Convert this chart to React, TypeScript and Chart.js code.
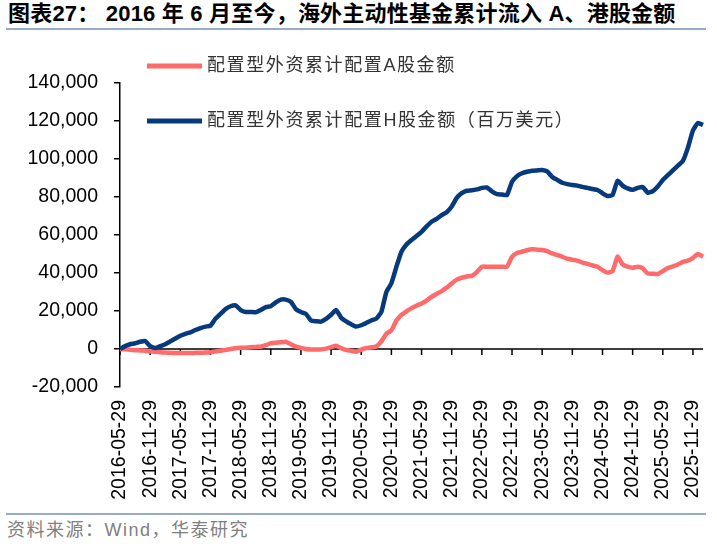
import { useEffect, useRef } from 'react';
import { Chart, registerables } from 'chart.js';

Chart.register(...registerables);

const titleText = '图表27： 2016 年 6 月至今，海外主动性基金累计流入 A、港股金额';
const sourceText = '资料来源：Wind，华泰研究';
const seriesNames = ['配置型外资累计配置A股金额', '配置型外资累计配置H股金额（百万美元）'];

const tickLabels = [
  '2016-05-29', '2016-11-29', '2017-05-29', '2017-11-29', '2018-05-29', '2018-11-29',
  '2019-05-29', '2019-11-29', '2020-05-29', '2020-11-29', '2021-05-29', '2021-11-29',
  '2022-05-29', '2022-11-29', '2023-05-29', '2023-11-29', '2024-05-29', '2024-11-29',
  '2025-05-29', '2025-11-29',
];

// monthly categories 2016-05 .. 2026-01
const categories: string[] = [];
for (let y = 2016; y <= 2026; y++) {
  for (let m = 1; m <= 12; m++) {
    if (y === 2016 && m < 5) continue;
    if (y === 2026 && m > 1) continue;
    categories.push(`${y}-${String(m).padStart(2, '0')}-29`);
  }
}

const aShares = [
  0, -200, -400, -600, -800, -900, -1200, -1500, -1700, -1900,
  -2000, -2100, -2100, -2100, -2100, -2000, -2000, -1900, -1700, -1300,
  -900, -500, 0, 400, 600, 700, 900, 1100, 1200, 2000,
  3000, 3300, 3500, 3800, 2500, 1200, 600, 0, -300, -200,
  -200, 200, 1000, 1700, 500, -500, -1000, -1400, -300, 500,
  900, 1300, 4000, 8000, 9800, 15000, 18000, 19800, 21500, 22800,
  24000, 25500, 27500, 29000, 30500, 32300, 34500, 36500, 37500, 38200,
  38500, 40500, 43300, 43300, 43300, 43300, 43300, 43300, 48500, 50500,
  51200, 52000, 52500, 52300, 52100, 51500, 50300, 49500, 48500, 47500,
  47000, 46500, 45500, 44800, 44000, 43300, 41500, 40200, 41000, 48600,
  44500, 43300, 42800, 43300, 42500, 39800, 39600, 39500, 41000, 42600,
  43500, 44500, 45900, 46500, 48000, 50000, 48600,
];

const hShares = [
  0, 1500, 2500, 3000, 3800, 4200, 1500, 500, 1500, 2500,
  4000, 5500, 7000, 8000, 8800, 10000, 11000, 11800, 12300, 16000,
  18500, 21000, 22500, 23000, 20500, 19500, 19500, 19300, 20500, 22000,
  22500, 24500, 26000, 26000, 24800, 21000, 19500, 18500, 15000, 14600,
  14400, 15800, 18000, 20500, 16500, 14500, 13000, 11800, 12500, 13700,
  15000, 16000, 19500, 30000, 34600, 43300, 51200, 55000, 57400, 59500,
  61700, 64500, 67000, 68500, 70500, 72000, 75000, 79500, 82000, 83300,
  83500, 84000, 84800, 85000, 83000, 81500, 81300, 81000, 88000, 91000,
  92500, 93300, 93800, 94000, 94200, 93500, 90500, 89000, 87500, 86800,
  86300, 86000, 85300, 84800, 84200, 83700, 82000, 80500, 81000, 88500,
  86000, 84500, 83800, 84800, 85300, 82300, 83000, 85500, 89000, 91500,
  94000, 96500, 99000, 106000, 115000, 119000, 117900,
];

const RED = '#FF6B6B';
const BLUE = '#063A7C';
const LATIN = "'Liberation Sans', Arial, 'Noto Sans CJK SC', sans-serif";

const decorPlugin = {
  id: 'decor',
  beforeDatasetsDraw(chart: any) {
    const { ctx, chartArea, scales } = chart;
    const x = scales.x;
    const y = scales.y;
    const y0 = y.getPixelForValue(0);
    ctx.save();
    ctx.strokeStyle = '#000';
    ctx.lineWidth = 1.5;
    ctx.beginPath();
    ctx.moveTo(chartArea.left, y0);
    ctx.lineTo(chartArea.right, y0);
    x.ticks.forEach((_t: any, i: number) => {
      const px = x.getPixelForTick(i);
      ctx.moveTo(px, y0);
      ctx.lineTo(px, y0 + 6);
    });
    ctx.stroke();
    ctx.restore();
  },
  afterDraw(chart: any) {
    const { ctx, chartArea } = chart;
    const items = [
      { name: seriesNames[0], color: RED, y: chartArea.top - 17 },
      { name: seriesNames[1], color: BLUE, y: chartArea.top + 38 },
    ];
    ctx.save();
    items.forEach((it) => {
      ctx.strokeStyle = it.color;
      ctx.lineWidth = 5;
      ctx.beginPath();
      ctx.moveTo(chartArea.left + 27, it.y);
      ctx.lineTo(chartArea.left + 82, it.y);
      ctx.stroke();
      ctx.fillStyle = '#333';
      ctx.font = `18px ${LATIN}`;
      (ctx as any).letterSpacing = '1.6px';
      ctx.textBaseline = 'middle';
      ctx.textAlign = 'left';
      ctx.fillText(it.name, chartArea.left + 87, it.y);
    });
    ctx.restore();
  },
};

export default function App() {
  const ref = useRef<HTMLCanvasElement | null>(null);

  useEffect(() => {
    if (!ref.current) return;
    const chart = new Chart(ref.current, {
      type: 'line',
      data: {
        labels: categories,
        datasets: [
          {
            label: seriesNames[1],
            data: hShares,
            borderColor: BLUE,
            backgroundColor: BLUE,
            borderWidth: 4.5,
            pointRadius: 0,
            tension: 0.15,
          },
          {
            label: seriesNames[0],
            data: aShares,
            borderColor: RED,
            backgroundColor: RED,
            borderWidth: 4.5,
            pointRadius: 0,
            tension: 0.15,
          },
        ],
      },
      options: {
        animation: false,
        responsive: false,
        devicePixelRatio: 1,
        layout: { padding: { top: 83, right: 14, left: 0, bottom: 0 } },
        plugins: {
          legend: { display: false },
          tooltip: { enabled: false },
        },
        scales: {
          x: {
            type: 'category',
            offset: false,
            border: { display: false },
            grid: { display: false, drawTicks: false },
            afterBuildTicks(scale: any) {
              scale.ticks = scale.ticks.filter((t: any) => tickLabels.includes(categories[t.value]));
            },
            afterFit(scale: any) {
              scale.height = 118;
              scale.paddingLeft = 0;
              scale.paddingRight = 0;
            },
            ticks: {
              autoSkip: false,
              minRotation: 90,
              maxRotation: 90,
              padding: 13,
              color: '#000',
              font: { family: LATIN, size: 19.5 },
              callback(this: any, value: any) {
                return this.getLabelForValue(value);
              },
            },
          },
          y: {
            min: -20000,
            max: 140000,
            border: { display: true, color: '#000', width: 1.5 },
            grid: {
              display: true,
              drawOnChartArea: false,
              drawTicks: true,
              tickLength: 6,
              color: '#000',
              lineWidth: 1.5,
            },
            afterFit(scale: any) {
              scale.width = 120;
            },
            ticks: {
              stepSize: 20000,
              padding: 16,
              color: '#000',
              font: { family: LATIN, size: 19.5 },
              callback(value: any) {
                return Number(value).toLocaleString('en-US');
              },
            },
          },
        },
      },
      plugins: [decorPlugin],
    } as any);
    return () => chart.destroy();
  }, []);

  return (
    <div style={{ position: 'absolute', left: 0, top: 0, width: 717, height: 548, background: '#fff', overflow: 'hidden' }}>
      <div
        style={{
          position: 'absolute',
          left: 8,
          top: 0,
          fontFamily: LATIN,
          fontSize: 22,
          fontWeight: 'bold',
          lineHeight: '27px',
          letterSpacing: '0.2px',
          color: '#000',
          whiteSpace: 'pre',
        }}
      >
        {titleText}
      </div>
      <div style={{ position: 'absolute', left: 6, top: 28, width: 700, height: 2, background: '#97ACC8' }} />
      <canvas ref={ref} width={717} height={505} style={{ position: 'absolute', left: 0, top: 0, width: 717, height: 505 }} />
      <div style={{ position: 'absolute', left: 6, top: 513, width: 700, height: 2, background: '#97ACC8' }} />
      <div
        style={{
          position: 'absolute',
          left: 7,
          top: 520,
          fontFamily: LATIN,
          fontSize: 18,
          lineHeight: '20px',
          letterSpacing: '1.5px',
          color: '#808080',
          whiteSpace: 'nowrap',
        }}
      >
        {sourceText}
      </div>
    </div>
  );
}
